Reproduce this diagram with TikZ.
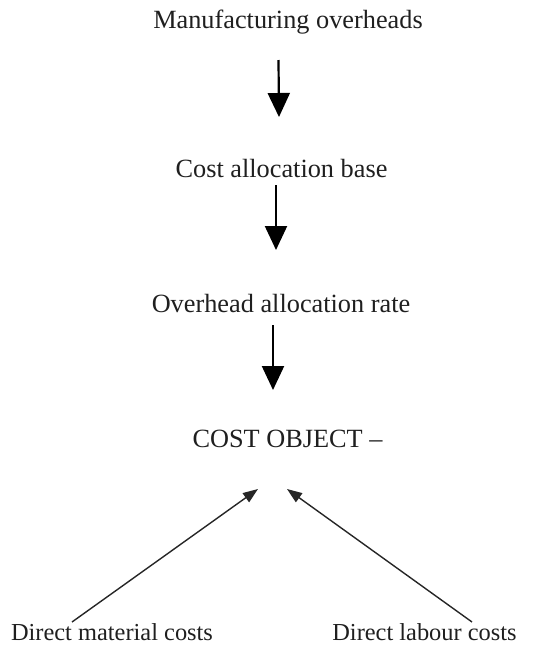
\documentclass[tikz,border=0pt]{standalone}
\usepackage{fontspec}
\setmainfont{Liberation Serif}
\usetikzlibrary{arrows.meta}
\begin{document}
\begin{tikzpicture}[x=1pt,y=-1pt,
  label/.style={inner sep=0pt,anchor=base,text=black!88,font=\fontsize{26.3}{30}\selectfont},
  smalllabel/.style={inner sep=0pt,anchor=base,text=black!88,font=\fontsize{24.4}{29}\selectfont},
  bigarrow/.style={line width=2.2pt,-{Triangle[width=22pt,length=24pt]}},
  thinarrow/.style={line width=1.4pt,draw=black!85,-{Triangle[width=11pt,length=15pt]}}]
\useasboundingbox (0,0) rectangle (556,646);
\node[label] (m) at (288,28) {Manufacturing overheads};
\node[label] (c) at (281.5,177) {Cost allocation base};
\node[label] (o) at (281,312) {Overhead allocation rate};
\node[label] (co) at (287.5,447) {COST OBJECT –};
\node[smalllabel] (dm) at (112,640) {Direct material costs};
\node[smalllabel] (dl) at (424.5,640) {Direct labour costs};
\draw[bigarrow] ([xshift=-9.5pt,yshift=-32pt]m.base) -- ([xshift=-2.5pt,yshift=60pt]c.base);
\draw[bigarrow] ([xshift=-5.5pt,yshift=-8pt]c.base) -- ([xshift=-5pt,yshift=62pt]o.base);
\draw[bigarrow] ([xshift=-8pt,yshift=-13pt]o.base) -- ([xshift=-14.5pt,yshift=57pt]co.base);
\draw[thinarrow] ([xshift=-40pt,yshift=18pt]dm.base) -- ([xshift=-29.5pt,yshift=-42pt]co.base);
\draw[thinarrow] ([xshift=47.5pt,yshift=18pt]dl.base) -- ([xshift=-0.5pt,yshift=-42pt]co.base);
\end{tikzpicture}
\end{document}
